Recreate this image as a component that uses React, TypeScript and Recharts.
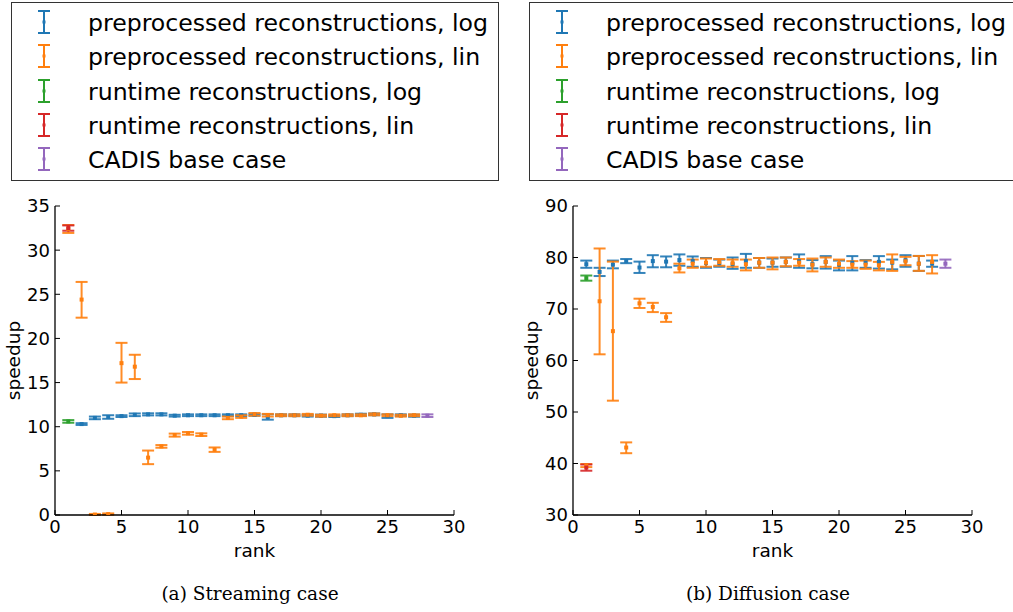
import { ScatterChart, Scatter, XAxis, YAxis, ErrorBar } from 'recharts';

// matplotlib classic colours
const BLUE = '#1f77b4';
const ORANGE = '#ff7f0e';
const GREEN = '#2ca02c';
const RED = '#d62728';
const PURPLE = '#9467bd';

const seriesNames = [
  'preprocessed reconstructions, log',
  'preprocessed reconstructions, lin',
  'runtime reconstructions, log',
  'runtime reconstructions, lin',
  'CADIS base case',
];
const seriesColors = [BLUE, ORANGE, GREEN, RED, PURPLE];

const rankTicks = [0, 5, 10, 15, 20, 25, 30];
const streamTicks = [0, 5, 10, 15, 20, 25, 30, 35];
const diffTicks = [30, 40, 50, 60, 70, 80, 90];

const ranks1to27 = [1, 2, 3, 4, 5, 6, 7, 8, 9, 10, 11, 12, 13, 14, 15, 16, 17, 18, 19, 20, 21, 22, 23, 24, 25, 26, 27];
const ranks2to27 = ranks1to27.slice(1);

// (a) streaming case
const streamLogMean = [10.3, 11.0, 11.1, 11.2, 11.35, 11.4, 11.4, 11.25, 11.3, 11.3, 11.3, 11.3, 11.3, 11.35, 11.1, 11.3, 11.3, 11.25, 11.25, 11.2, 11.3, 11.35, 11.4, 11.2, 11.3, 11.25];
const streamLogLow = [10.2, 10.85, 10.9, 11.1, 11.2, 11.28, 11.28, 11.15, 11.2, 11.2, 11.2, 11.2, 11.2, 11.25, 10.8, 11.2, 11.2, 11.15, 11.13, 11.1, 11.2, 11.23, 11.3, 11.0, 11.2, 11.13];
const streamLogHigh = [10.4, 11.15, 11.3, 11.3, 11.5, 11.52, 11.52, 11.35, 11.4, 11.4, 11.4, 11.4, 11.4, 11.45, 11.4, 11.4, 11.4, 11.35, 11.37, 11.3, 11.4, 11.47, 11.5, 11.4, 11.4, 11.37];

const streamLinMean = [32.4, 24.4, 0.05, 0.1, 17.2, 16.8, 6.5, 7.77, 9.05, 9.25, 9.1, 7.4, 11.0, 11.15, 11.4, 11.3, 11.3, 11.3, 11.35, 11.25, 11.3, 11.3, 11.3, 11.4, 11.3, 11.25, 11.3];
const streamLinLow = [31.95, 22.35, 0.0, 0.02, 15.0, 15.4, 5.76, 7.62, 8.88, 9.1, 8.95, 7.15, 10.85, 11.0, 11.25, 11.15, 11.2, 11.2, 11.25, 11.15, 11.2, 11.2, 11.2, 11.3, 11.2, 11.15, 11.2];
const streamLinHigh = [32.85, 26.4, 0.12, 0.18, 19.5, 18.15, 7.3, 7.92, 9.22, 9.4, 9.25, 7.65, 11.15, 11.3, 11.55, 11.45, 11.4, 11.4, 11.45, 11.35, 11.4, 11.4, 11.4, 11.5, 11.4, 11.35, 11.4];

const streamRtLogMean = [10.6];
const streamRtLogLow = [10.45];
const streamRtLogHigh = [10.75];
const streamRtLinMean = [32.5];
const streamRtLinLow = [32.2];
const streamRtLinHigh = [32.8];
const streamCadisMean = [11.25];
const streamCadisLow = [11.1];
const streamCadisHigh = [11.4];

// (b) diffusion case
const diffLogMean = [78.7, 77.2, 78.6, 79.3, 78.05, 79.3, 79.2, 79.5, 79.3, 78.9, 78.9, 78.7, 79.3, 79.0, 79.0, 79.15, 79.27, 78.7, 79.15, 78.6, 79.0, 79.0, 79.15, 79.0, 79.47, 78.8, 78.8];
const diffLogLow = [78.0, 76.4, 77.9, 78.9, 77.0, 78.1, 78.1, 78.4, 78.2, 78.0, 78.2, 77.8, 78.0, 78.0, 78.2, 78.2, 78.0, 77.9, 77.85, 77.5, 77.5, 78.0, 77.85, 77.7, 78.2, 77.4, 78.2];
const diffLogHigh = [79.4, 78.0, 79.4, 79.7, 79.2, 80.45, 80.2, 80.6, 80.2, 79.9, 79.6, 80.0, 80.7, 79.9, 79.8, 80.0, 80.6, 79.5, 80.27, 79.4, 80.27, 79.5, 80.27, 79.6, 80.45, 80.3, 79.4];

const diffLinMean = [39.6, 71.5, 65.7, 43.1, 71.1, 70.4, 68.4, 77.9, 78.8, 79.0, 79.1, 78.9, 78.7, 79.0, 79.0, 79.15, 79.0, 78.6, 79.15, 78.8, 78.6, 78.6, 78.5, 79.15, 79.27, 78.8, 79.15];
const diffLinLow = [39.3, 61.2, 52.2, 42.0, 70.2, 69.4, 67.5, 77.1, 78.0, 78.2, 78.4, 78.2, 77.5, 78.0, 77.7, 78.3, 78.4, 77.3, 78.2, 78.0, 78.0, 77.8, 77.5, 77.4, 78.5, 77.4, 76.9];
const diffLinHigh = [39.9, 81.75, 79.2, 44.1, 72.0, 71.2, 69.2, 78.8, 79.6, 79.8, 79.7, 79.6, 79.6, 79.9, 80.0, 80.0, 79.7, 79.8, 80.0, 79.6, 79.3, 79.4, 79.15, 80.6, 80.13, 80.3, 80.45];

const diffRtLogMean = [76.0];
const diffRtLogLow = [75.5];
const diffRtLogHigh = [76.5];
const diffRtLinMean = [39.2];
const diffRtLinLow = [38.6];
const diffRtLinHigh = [39.8];
const diffCadisMean = [78.8];
const diffCadisLow = [78.0];
const diffCadisHigh = [79.6];

type Pt = { x: number; y: number; err: [number, number] };

function toPoints(ranks: number[], mean: number[], low: number[], high: number[]): Pt[] {
  return ranks.map((r, i) => ({ x: r, y: mean[i], err: [mean[i] - low[i], high[i] - mean[i]] }));
}

const FONT = '"DejaVu Sans", sans-serif';
const TICK_FS = 18;
const TICK_LEN = 5;

const BottomTick = (p: any) => (
  <g>
    <line x1={p.x} x2={p.x} y1={p.y - 5} y2={p.y - 5 - TICK_LEN} stroke="#000" strokeWidth={1} />
    <text x={p.x} y={p.y} dy="0.73em" textAnchor="middle" fontSize={TICK_FS} fontFamily={FONT} fill="#000">
      {p.payload.value}
    </text>
  </g>
);
const TopTick = (p: any) => (
  <line x1={p.x} x2={p.x} y1={p.y} y2={p.y + TICK_LEN} stroke="#000" strokeWidth={1} />
);
const LeftTick = (p: any) => (
  <g>
    <line x1={p.x + 5} x2={p.x + 5 + TICK_LEN} y1={p.y} y2={p.y} stroke="#000" strokeWidth={1} />
    <text x={p.x} y={p.y} dy="0.36em" textAnchor="end" fontSize={TICK_FS} fontFamily={FONT} fill="#000">
      {p.payload.value}
    </text>
  </g>
);
const RightTick = (p: any) => (
  <line x1={p.x} x2={p.x - TICK_LEN} y1={p.y} y2={p.y} stroke="#000" strokeWidth={1} />
);

const dot = (color: string) => (p: any) => (
  <rect x={p.cx - 2} y={p.cy - 2} width={4} height={4} fill={color} />
);

type Panel = { data: Pt[][]; yDomain: [number, number]; yTicks: number[] };

function ErrPanel({ data, yDomain, yTicks }: Panel) {
  const axisLine = { stroke: '#000', strokeWidth: 1.3 };
  return (
    <ScatterChart width={480} height={385} margin={{ top: 16, right: 26, left: 0, bottom: 0 }}>
      <XAxis
        type="number" dataKey="x" domain={[0, 30]} ticks={rankTicks} interval={0}
        allowDataOverflow height={60} tickSize={0} tickMargin={5} tickLine={false}
        axisLine={axisLine} tick={BottomTick}
      />
      <XAxis
        xAxisId="top" orientation="top" type="number" domain={[0, 30]} ticks={rankTicks} interval={0}
        height={0} tickSize={0} tickMargin={0} tickLine={false} axisLine={axisLine} tick={TopTick}
      />
      <YAxis
        type="number" dataKey="y" domain={yDomain} ticks={yTicks} interval={0}
        allowDataOverflow width={55} tickSize={0} tickMargin={5} tickLine={false}
        axisLine={axisLine} tick={LeftTick}
      />
      <YAxis
        yAxisId="right" orientation="right" type="number" domain={yDomain} ticks={yTicks} interval={0}
        width={0} tickSize={0} tickMargin={0} tickLine={false} axisLine={axisLine} tick={RightTick}
      />
      {data.map((pts, i) => (
        <Scatter
          key={i} name={seriesNames[i]} data={pts} fill={seriesColors[i]}
          shape={dot(seriesColors[i])} isAnimationActive={false}
        >
          <ErrorBar
            dataKey="err" direction="y" width={6} stroke={seriesColors[i]}
            strokeWidth={2} strokeOpacity={0.9} isAnimationActive={false}
          />
        </Scatter>
      ))}
    </ScatterChart>
  );
}

function LegendBox({ left, width }: { left: number; width: number }) {
  return (
    <div
      style={{
        position: 'absolute', left, top: 2, width, height: 179,
        border: '1.5px solid #333', background: '#fff', boxSizing: 'border-box',
      }}
    >
      {seriesNames.map((name, i) => (
        <div key={name} style={{ position: 'absolute', left: 0, top: 19 + i * 34.3 - 17, height: 34, width: '100%' }}>
          <svg width={20} height={34} style={{ position: 'absolute', left: 22, top: 0 }}>
            <line x1={10} x2={10} y1={6} y2={28} stroke={seriesColors[i]} strokeWidth={2} />
            <line x1={4} x2={16} y1={6} y2={6} stroke={seriesColors[i]} strokeWidth={2} />
            <line x1={4} x2={16} y1={28} y2={28} stroke={seriesColors[i]} strokeWidth={2} />
            <rect x={8.5} y={15.5} width={3} height={3} fill={seriesColors[i]} />
          </svg>
          <span
            style={{
              position: 'absolute', left: 76, top: 1, lineHeight: '34px',
              fontSize: 23.6, fontFamily: FONT, color: '#000', whiteSpace: 'nowrap',
            }}
          >
            {name}
          </span>
        </div>
      ))}
    </div>
  );
}

export default function App() {
  const streamData = [
    toPoints(ranks2to27, streamLogMean, streamLogLow, streamLogHigh),
    toPoints(ranks1to27, streamLinMean, streamLinLow, streamLinHigh),
    toPoints([1], streamRtLogMean, streamRtLogLow, streamRtLogHigh),
    toPoints([1], streamRtLinMean, streamRtLinLow, streamRtLinHigh),
    toPoints([28], streamCadisMean, streamCadisLow, streamCadisHigh),
  ];
  const diffData = [
    toPoints(ranks1to27, diffLogMean, diffLogLow, diffLogHigh),
    toPoints(ranks1to27, diffLinMean, diffLinLow, diffLinHigh),
    toPoints([1], diffRtLogMean, diffRtLogLow, diffRtLogHigh),
    toPoints([1], diffRtLinMean, diffRtLinLow, diffRtLinHigh),
    toPoints([28], diffCadisMean, diffCadisLow, diffCadisHigh),
  ];

  const labelStyle = { fontSize: 18.5, fontFamily: FONT, fill: '#000' };
  const captionStyle: React.CSSProperties = {
    position: 'absolute', top: 583, fontSize: 18.5, fontFamily: '"DejaVu Serif", serif',
    color: '#000', width: 300, textAlign: 'center', whiteSpace: 'nowrap',
  };

  return (
    <div style={{ position: 'absolute', left: 0, top: 0, width: 1013, height: 612, background: '#fff', overflow: 'hidden' }}>
      <LegendBox left={11} width={488} />
      <LegendBox left={529} width={500} />

      <div style={{ position: 'absolute', left: 0, top: 190 }}>
        <ErrPanel data={streamData} yDomain={[0, 35]} yTicks={streamTicks} />
      </div>
      <div style={{ position: 'absolute', left: 518, top: 190 }}>
        <ErrPanel data={diffData} yDomain={[30, 90]} yTicks={diffTicks} />
      </div>

      <svg width={1013} height={612} style={{ position: 'absolute', left: 0, top: 0, pointerEvents: 'none' }}>
        <text x={254.5} y={557} textAnchor="middle" {...labelStyle}>rank</text>
        <text x={772.5} y={557} textAnchor="middle" {...labelStyle}>rank</text>
        <text transform="translate(20,360.5) rotate(-90)" textAnchor="middle" {...labelStyle}>speedup</text>
        <text transform="translate(538,360.5) rotate(-90)" textAnchor="middle" {...labelStyle}>speedup</text>
      </svg>

      <div style={{ ...captionStyle, left: 100 }}>(a) Streaming case</div>
      <div style={{ ...captionStyle, left: 618 }}>(b) Diffusion case</div>
    </div>
  );
}
